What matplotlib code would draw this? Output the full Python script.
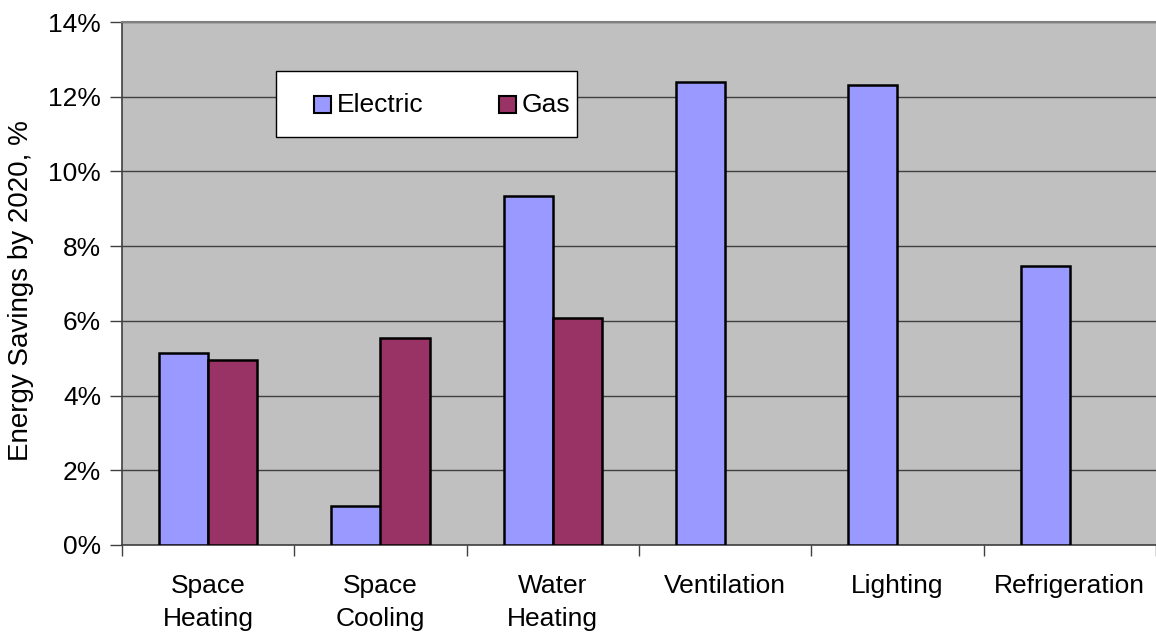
import matplotlib
matplotlib.use('Agg')
import matplotlib.pyplot as plt
import numpy as np
from matplotlib.patches import Rectangle

plt.rcParams['font.family'] = ['Liberation Sans', 'DejaVu Sans']

categories = ["Space\nHeating", "Space\nCooling", "Water\nHeating",
              "Ventilation", "Lighting", "Refrigeration"]
electric = [5.14, 1.04, 9.34, 12.39, 12.31, 7.47]
gas = [4.95, 5.54, 6.08, 0, 0, 0]
yticks = [0, 2, 4, 6, 8, 10, 12, 14]

ELEC = '#9999FF'
GAS = '#993366'
W, H = 1156, 634

fig = plt.figure(figsize=(W / 100, H / 100), dpi=100)
ax = fig.add_axes([122 / W, 89 / H, 1034 / W, 523 / H])
ax.set_facecolor('#C0C0C0')

x = np.arange(len(categories))
w = 0.285
ax.bar(x - w / 2, electric, w, color=ELEC, edgecolor='black', linewidth=1.8, zorder=3)
gx = [xi + w / 2 for xi, g in zip(x, gas) if g > 0]
gv = [g for g in gas if g > 0]
ax.bar(gx, gv, w, color=GAS, edgecolor='black', linewidth=1.8, zorder=3)

# plot area runs off the right edge: 173.3 px per category
ax.set_xlim(-0.5, -0.5 + 1034 / 173.3)
ax.set_ylim(0, 14)

# y axis with horizontal gridlines
ax.set_yticks(yticks)
ax.set_yticklabels([f"{t}%" for t in yticks], fontsize=19)
ax.yaxis.grid(True, color='#404040', linewidth=1.0, zorder=1)
ax.set_axisbelow(True)
ax.tick_params(axis='y', length=9, width=1, color='#404040', pad=6)

# category boundaries as major ticks, labels on minor ticks
ax.set_xticks(np.arange(-0.5, len(categories), 1.0))
ax.set_xticklabels([])
ax.tick_params(axis='x', which='major', length=8, width=1, color='#404040')
ax.set_xticks(x, minor=True)
ax.set_xticklabels(categories, minor=True, fontsize=19, linespacing=1.45)
ax.tick_params(axis='x', which='minor', length=0, pad=21)

for s in ['left', 'bottom']:
    ax.spines[s].set_color('#404040')
    ax.spines[s].set_linewidth(1.2)
ax.spines['top'].set_color('#808080')
ax.spines['top'].set_linewidth(1.5)
ax.spines['right'].set_visible(False)

ax.set_ylabel("Energy Savings by 2020, %", fontsize=20)
ax.yaxis.set_label_coords((34 - 122) / 1034, 0.486)

# legend box, laid out in pixel units
def px(xp, yp):
    return xp / W, 1 - yp / H

lx0, ly0 = px(276, 137)
lx1, ly1 = px(577, 71)
fig.add_artist(Rectangle((lx0, ly0), lx1 - lx0, ly1 - ly0, transform=fig.transFigure,
                         facecolor='white', edgecolor='black', linewidth=1.0, zorder=5))
for (xp, color, label) in [(314, ELEC, 'Electric'), (499, GAS, 'Gas')]:
    sx, sy = px(xp, 113)
    fig.add_artist(Rectangle((sx, sy), 17 / W, 17 / H, transform=fig.transFigure,
                             facecolor=color, edgecolor='black', linewidth=1.5, zorder=6))
    tx, ty = px(xp + 23, 105)
    fig.text(tx, ty, label, fontsize=19, ha='left', va='center', zorder=7)

fig.savefig('out.png', dpi=100, facecolor='white')
